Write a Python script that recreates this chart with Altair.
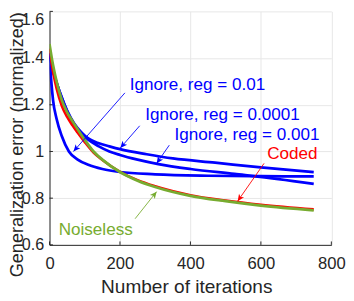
import math
import altair as alt
import pandas as pd

# ---- data ----
noiseless_x = [0, 10, 20, 35, 50, 65, 80, 100, 125, 150, 200, 250, 300, 400, 500, 600, 750]
noiseless_y = [1.46, 1.37, 1.30, 1.22, 1.168, 1.13, 1.095, 1.05, 1.0, 0.965, 0.912, 0.875, 0.848, 0.81, 0.787, 0.768, 0.748]

coded_x = [0, 10, 20, 35, 50, 65, 80, 100, 125, 150, 200, 250, 300, 400, 500, 600, 750]
coded_y = [1.44, 1.34, 1.27, 1.195, 1.148, 1.112, 1.08, 1.04, 0.995, 0.963, 0.913, 0.877, 0.851, 0.813, 0.79, 0.772, 0.752]

reg001_x = [0, 5, 10, 20, 35, 55, 80, 110, 150, 200, 300, 450, 600, 750]
reg001_y = [1.41, 1.30, 1.22, 1.14, 1.065, 1.0, 0.965, 0.943, 0.925, 0.912, 0.902, 0.896, 0.894, 0.893]

reg00001_x = [0, 10, 20, 35, 50, 70, 90, 110, 140, 170, 200, 276, 350, 470, 600, 750]
reg00001_y = [1.42, 1.345, 1.295, 1.23, 1.175, 1.12, 1.083, 1.056, 1.035, 1.022, 1.01, 0.988, 0.97, 0.952, 0.932, 0.912]

reg0001_x = [0, 10, 20, 35, 50, 70, 90, 110, 140, 170, 200, 250, 309, 400, 525, 650, 750]
reg0001_y = [1.42, 1.345, 1.295, 1.23, 1.172, 1.115, 1.078, 1.05, 1.022, 1.0, 0.985, 0.965, 0.946, 0.925, 0.904, 0.882, 0.861]

x_ticks = [0, 200, 400, 600, 800]
y_ticks = [0.6, 0.8, 1.0, 1.2, 1.4, 1.6]

# annotations: text, colour, text anchor, arrow start, arrow tip (data units)
ann_text = ["Ignore, reg = 0.01", "Ignore, reg = 0.0001", "Ignore, reg = 0.001", "Coded", "Noiseless"]
ann_color = ["#0000ff", "#0000ff", "#0000ff", "#ff0000", "#77ac30"]
ann_tx = [228, 272, 355, 618, 26]
ann_ty = [1.285, 1.156, 1.069, 0.99, 0.662]
arr_x0 = [214, 256, 340, 609, 243]
arr_y0 = [1.251, 1.110, 1.027, 0.949, 0.712]
arr_x1 = [68, 201, 304, 534, 304]
arr_y1 = [1.0, 1.015, 0.949, 0.787, 0.828]

# ---- layout ----
W, H = 288.5, 239
FONT = "Liberation Sans"
XD = [0, 800]
YD = [0.6, 1.6]

series = [
    ("Ignore, reg = 0.01", reg001_x, reg001_y, "#0000ff", 2.8),
    ("Ignore, reg = 0.0001", reg00001_x, reg00001_y, "#0000ff", 2.8),
    ("Ignore, reg = 0.001", reg0001_x, reg0001_y, "#0000ff", 2.8),
    ("Coded", coded_x, coded_y, "#ff0000", 2.6),
    ("Noiseless", noiseless_x, noiseless_y, "#77ac30", 2.8),
]

xscale = alt.Scale(domain=XD, nice=False, zero=False)
yscale = alt.Scale(domain=YD, nice=False, zero=False)

xaxis = alt.Axis(
    values=x_ticks, grid=True, gridColor="#e6e6e6", ticks=False,
    domainColor="#262626", labelFont=FONT, labelFontSize=17, labelColor="#262626",
    labelPadding=11, title="Number of iterations", titleFont=FONT, titleFontSize=19.5,
    titleFontWeight="normal", titleColor="#262626", titleX=140, titleY=49,
    titleBaseline="alphabetic", labelFlush=False,
)
yaxis = alt.Axis(
    values=y_ticks, grid=True, gridColor="#e6e6e6", ticks=False, format="~g",
    domainColor="#262626", labelFont=FONT, labelFontSize=16.5, labelColor="#262626",
    labelPadding=6, labelFlush=False,
    labelBaseline={"condition": {"test": "datum.value > 1.55", "value": "top"}, "value": "middle"},
    title="Generalization error (normalized)", titleFont=FONT, titleFontSize=18.5,
    titleFontWeight="normal", titleColor="#262626", titleX=-27.5, titleY=136,
    titleBaseline="alphabetic", titleAngle=270,
)

layers = []
# axes/grid carrier
base_df = pd.DataFrame({"x": [XD[0]], "y": [YD[0]]})
layers.append(
    alt.Chart(base_df).mark_point(opacity=0).encode(
        x=alt.X("x:Q", scale=xscale, axis=xaxis),
        y=alt.Y("y:Q", scale=yscale, axis=yaxis),
    )
)

# inward tick marks
xt = pd.DataFrame({"x": x_ticks})
layers.append(
    alt.Chart(xt).mark_rule(color="#262626", strokeWidth=1).encode(
        x=alt.X("x:Q", scale=xscale), y=alt.value(H), y2=alt.value(H - 3.5)
    )
)
yt = pd.DataFrame({"y": y_ticks})
layers.append(
    alt.Chart(yt).mark_rule(color="#262626", strokeWidth=1).encode(
        y=alt.Y("y:Q", scale=yscale), x=alt.value(0), x2=alt.value(3.5)
    )
)

for name, xs, ys, col, sw in series:
    df = pd.DataFrame({"x": xs, "y": ys})
    layers.append(
        alt.Chart(df).mark_line(color=col, strokeWidth=sw, interpolate="monotone", clip=True).encode(
            x=alt.X("x:Q", scale=xscale), y=alt.Y("y:Q", scale=yscale)
        )
    )

# arrows
kx = W / (XD[1] - XD[0])
ky = H / (YD[1] - YD[0])
angles = []
for a, b, c, d in zip(arr_x0, arr_y0, arr_x1, arr_y1):
    dx = (c - a) * kx
    dy = -(d - b) * ky
    angles.append((math.degrees(math.atan2(dx, -dy)) + 360) % 360)

arr_df = pd.DataFrame({"x0": arr_x0, "y0": arr_y0, "x1": arr_x1, "y1": arr_y1,
                       "color": ann_color, "angle": angles})
layers.append(
    alt.Chart(arr_df).mark_rule(strokeWidth=0.9).encode(
        x=alt.X("x0:Q", scale=xscale), y=alt.Y("y0:Q", scale=yscale),
        x2="x1:Q", y2="y1:Q", color=alt.Color("color:N", scale=None),
    )
)
layers.append(
    alt.Chart(arr_df).mark_point(
        shape="M0,0L-0.45,1L0,0.75L0.45,1Z", size=196, filled=True, opacity=1, strokeWidth=0
    ).encode(
        x=alt.X("x1:Q", scale=xscale), y=alt.Y("y1:Q", scale=yscale),
        color=alt.Color("color:N", scale=None), angle=alt.Angle("angle:Q", scale=None),
    )
)

txt_df = pd.DataFrame({"x": ann_tx, "y": ann_ty, "t": ann_text, "color": ann_color})
layers.append(
    alt.Chart(txt_df).mark_text(align="left", baseline="middle", font=FONT, fontSize=17.5).encode(
        x=alt.X("x:Q", scale=xscale), y=alt.Y("y:Q", scale=yscale),
        text="t:N", color=alt.Color("color:N", scale=None),
    )
)

chart = alt.layer(*layers).properties(
    width=W, height=H,
    autosize=alt.AutoSizeParams(type="none"),
    padding={"left": 42.5, "top": 0, "right": 15, "bottom": 54},
).configure_view(stroke=None)

chart.save("out.html", embed_options={"renderer": "svg", "actions": False})
